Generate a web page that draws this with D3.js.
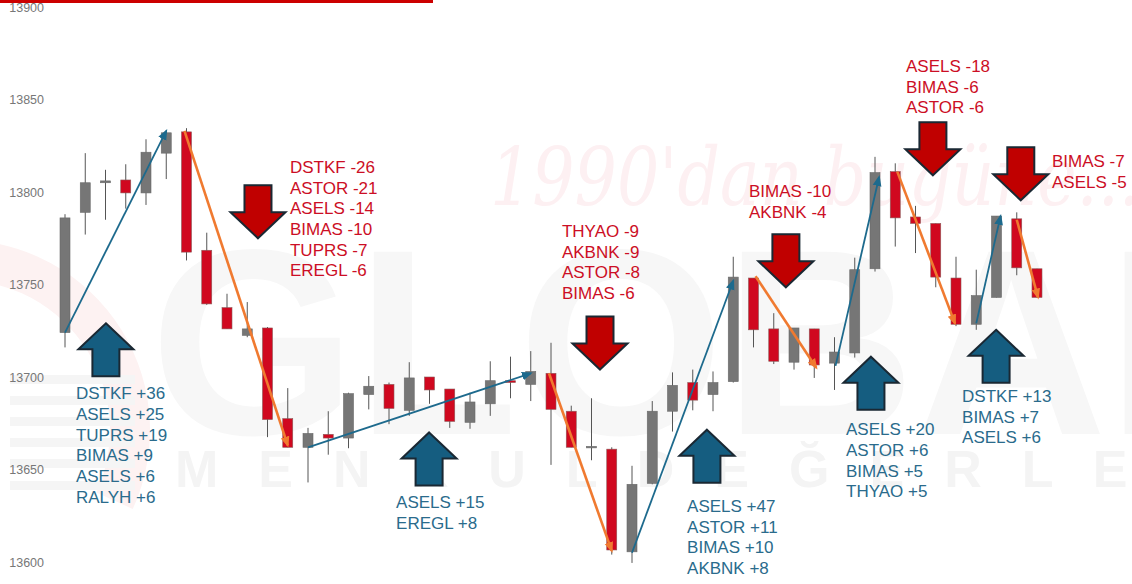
<html>
<head>
<meta charset="utf-8">
<script src="https://cdn.jsdelivr.net/npm/d3@7/dist/d3.min.js"></script>
<style>
body { margin: 0; background: #ffffff; }
.tick text { font-family: "Liberation Sans", Arial, sans-serif; font-size: 12.5px; fill: #777777; }
.note { font-family: "Liberation Sans", Arial, sans-serif; font-size: 17px; }
</style>
</head>
<body>
<script>
// session OHLC
var opens  = [13724,13789,13805,13806.5,13799.5,13821,13832.5,13768.5,13737.5,13722.5,
              13726.5,13677.5,13662,13669,13667,13690.5,13696,13682,13700,13693.5,
              13675.5,13685.5,13698,13696,13702,13681.5,13662,13661,13605.5,13642.5,
              13681.5,13697,13690.5,13697.5,13753.5,13726,13708,13726,13707.5,13713,
              13758.5,13811,13786.5,13783,13753.5,13728.5,13743,13785.5,13758.5];
var highs  = [13788,13821,13812,13815,13828.5,13833,13834.5,13778,13745,13740.5,
              13727,13694,13672.5,13681.5,13691.5,13700.5,13697,13708,13700,13693.5,
              13691.5,13708.5,13711,13714,13718.5,13684.5,13688.5,13662,13652,13687,
              13702.5,13704,13703,13765,13753.5,13734.5,13726.5,13726,13721.5,13764.5,
              13819,13815.5,13792.5,13783,13765,13758,13787,13789,13758.5];
var lows   = [13716,13777,13785,13791,13793,13807,13763,13739,13726,13721.5,
              13667.5,13662,13643,13658,13661.5,13682.5,13674.5,13679,13685.5,13672.5,
              13672,13679,13688.5,13687,13652.5,13662,13655,13604,13599.5,13642,
              13670.5,13682,13681.5,13697,13716,13707,13704,13699.5,13693,13710.5,
              13757,13770.5,13767,13748.5,13727.5,13725.5,13743,13755,13743];
var closes = [13786,13805,13806,13799.5,13821.5,13832,13767.5,13739.5,13726,13726,
              13677,13662,13669.5,13667,13691,13695,13683,13699.5,13693,13676,
              13686.5,13698,13697,13703,13682.5,13662,13662.5,13606.5,13642,13681.5,
              13695.5,13687.5,13697,13754,13725.5,13708.5,13726.5,13706.5,13713.5,13758,
              13810.5,13786,13783,13754,13728.5,13744,13787,13759,13743];

var yTicks = [13600,13650,13700,13750,13800,13850,13900];

// trend lines: [from index, from price, to index, to price]
var upMoves   = [[0,13724,5,13833],[12,13662,23,13702],[28,13605,33,13752],[38.05,13706,40.2,13808],[45,13729,46.2,13787]];
var downMoves = [[5.9,13833,11,13663],[23.9,13702,27,13606],[34.1,13754.5,37.1,13705],[41.1,13811,43.95,13729],[47,13785,48.05,13743]];

// block arrows: [index, price at tip]
var upArrows   = [[2.02,13729],[17.98,13670],[31.7,13671.5],[39.8,13711],[45.98,13725.5]];
var downArrows = [[9.53,13775],[26.42,13704],[35.6,13748.5],[42.86,13809],[47.2,13795.5]];

// stock contributions: [index, price at first baseline, lines]
var gainers = [
  [0.54, 13688, ['DSTKF +36','ASELS +25','TUPRS +19','BIMAS +9','ASELS +6','RALYH +6']],
  [16.35,13629, ['ASELS +15','EREGL +8']],
  [30.72,13627, ['ASELS +47','ASTOR +11','BIMAS +10','AKBNK +8']],
  [38.57,13668.5,['ASELS +20','ASTOR +6','BIMAS +5','THYAO +5']],
  [44.3, 13686.5,['DSTKF +13','BIMAS +7','ASELS +6']]
];
var losers = [
  [11.11,13810.3,['DSTKF -26','ASTOR -21','ASELS -14','BIMAS -10','TUPRS -7','EREGL -6']],
  [24.54,13775.7,['THYAO -9','AKBNK -9','ASTOR -8','BIMAS -6']],
  [33.78,13797.3,['BIMAS -10','AKBNK -4']],
  [41.53,13864.9,['ASELS -18','BIMAS -6','ASTOR -6']],
  [48.74,13813.5,['BIMAS -7','ASELS -5']]
];

var width = 1132, height = 584;
var candles = opens.map(function(o, i) {
  return {i: i, o: o, h: highs[i], l: lows[i], c: closes[i]};
});

var x = d3.scaleLinear().domain([0, candles.length - 1]).range([65, 1037]);
var y = d3.scaleLinear().domain([13600, 13900]).range([562, 7]);

var svg = d3.select('body').append('svg')
  .attr('width', width)
  .attr('height', height);

// ---- watermark ----
var wm = svg.append('g');
wm.append('path')
  .attr('d', d3.arc().innerRadius(150).outerRadius(190).startAngle(-0.1).endAngle(2.0)())
  .attr('transform', 'translate(-40,430)')
  .attr('fill', '#fdf2f2');
wm.selectAll('.stripe')
  .data([375, 396, 417, 438, 459, 481])
  .enter().append('rect')
  .attr('x', 10).attr('y', function(d) { return d; })
  .attr('width', 125).attr('height', 9)
  .attr('fill', '#f5f5f5');
wm.append('text')
  .text('GLOBAL')
  .attr('x', 150).attr('y', 434)
  .style('font', 'bold 265px "Liberation Sans", Arial, sans-serif')
  .attr('fill', '#f7f7f7');
wm.append('text')
  .text("1990'dan bugüne...")
  .attr('x', 490).attr('y', 205)
  .attr('textLength', 650).attr('lengthAdjust', 'spacingAndGlyphs')
  .style('font', 'italic 80px "DejaVu Serif", serif')
  .attr('fill', '#fdf0f2');
wm.append('text')
  .text('M E N K U L   D E Ğ E R L E R')
  .attr('x', 175).attr('y', 487)
  .attr('textLength', 1030).attr('lengthAdjust', 'spacing')
  .style('font', 'bold 52px "Liberation Sans", Arial, sans-serif')
  .attr('fill', '#f4f4f4');

// top red band
svg.append('rect')
  .attr('x', 0).attr('y', 0).attr('width', 433).attr('height', 3)
  .attr('fill', '#cc0000');

// ---- y axis ----
var yAxis = d3.axisLeft(y)
  .tickValues(yTicks)
  .tickSize(0)
  .tickPadding(0)
  .tickFormat(d3.format('d'));
var ag = svg.append('g')
  .attr('transform', 'translate(44,0)')
  .call(yAxis);
ag.select('.domain').remove();

// ---- candles ----
var bw = 10;
var cg = svg.selectAll('.candle')
  .data(candles)
  .enter().append('g')
  .attr('class', 'candle');

cg.append('line')
  .attr('x1', function(d) { return x(d.i); })
  .attr('x2', function(d) { return x(d.i); })
  .attr('y1', function(d) { return y(d.h); })
  .attr('y2', function(d) { return y(d.l); })
  .attr('stroke', '#555555')
  .attr('stroke-width', 1);

cg.append('rect')
  .attr('x', function(d) { return x(d.i) - bw / 2; })
  .attr('y', function(d) { return y(Math.max(d.o, d.c)); })
  .attr('width', bw)
  .attr('height', function(d) { return Math.max(1.5, Math.abs(y(d.o) - y(d.c))); })
  .attr('fill', function(d) { return d.c >= d.o ? '#767676' : '#d0081f'; })
  .attr('stroke', function(d) { return d.c >= d.o ? '#6a6a6a' : '#8c5a5a'; })
  .attr('stroke-width', 0.6);

// ---- trend lines with heads ----
var defs = svg.append('defs');
function marker(id, color) {
  defs.append('marker')
    .attr('id', id)
    .attr('viewBox', '0 0 10 10')
    .attr('refX', 8).attr('refY', 5)
    .attr('markerUnits', 'userSpaceOnUse')
    .attr('markerWidth', 11).attr('markerHeight', 11)
    .attr('orient', 'auto')
    .append('path')
    .attr('d', 'M0,1 L10,5 L0,9 Z')
    .attr('fill', color);
}
marker('headBlue', '#1d6a8d');
marker('headOrange', '#f07a30');

function drawMoves(data, color, w, head) {
  svg.selectAll(null)
    .data(data)
    .enter().append('line')
    .attr('x1', function(d) { return x(d[0]); })
    .attr('y1', function(d) { return y(d[1]); })
    .attr('x2', function(d) { return x(d[2]); })
    .attr('y2', function(d) { return y(d[3]); })
    .attr('stroke', color)
    .attr('stroke-width', w)
    .attr('marker-end', 'url(#' + head + ')');
}
drawMoves(upMoves, '#1d6a8d', 1.8, 'headBlue');
drawMoves(downMoves, '#f07a30', 2.6, 'headOrange');

// ---- block arrows ----
function blockArrow(cx, tip, dir) {
  var hw = 27.5, sw = 13.5, hh = 26, len = 53;
  var p = [[0,0],[hw,hh],[sw,hh],[sw,len],[-sw,len],[-sw,hh],[-hw,hh]];
  return 'M' + p.map(function(q) { return (cx + q[0]) + ',' + (tip + dir * q[1]); }).join('L') + 'Z';
}
svg.selectAll('.upArrow')
  .data(upArrows)
  .enter().append('path')
  .attr('d', function(d) { return blockArrow(x(d[0]), y(d[1]), 1); })
  .attr('fill', '#155d80')
  .attr('stroke', '#1a2833')
  .attr('stroke-width', 2);
svg.selectAll('.downArrow')
  .data(downArrows)
  .enter().append('path')
  .attr('d', function(d) { return blockArrow(x(d[0]), y(d[1]), -1); })
  .attr('fill', '#c00000')
  .attr('stroke', '#1a2833')
  .attr('stroke-width', 2);

// ---- text notes ----
var lh = 20.7;
function notes(data, color) {
  data.forEach(function(n) {
    var t = svg.append('text')
      .attr('class', 'note')
      .attr('fill', color);
    n[2].forEach(function(s, k) {
      t.append('tspan')
        .attr('x', x(n[0]))
        .attr('y', y(n[1]) + k * lh)
        .text(s);
    });
  });
}
notes(gainers, '#2a6b8c');
notes(losers, '#cc0e25');
</script>
</body>
</html>
